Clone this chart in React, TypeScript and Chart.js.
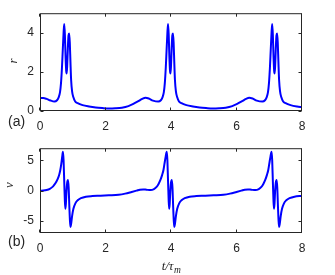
import React, { useEffect, useRef } from "react";
import { Chart, registerables } from "chart.js";

Chart.register(...registerables);

// ---------- data ----------
const xTicks = [0, 2, 4, 6, 8];
const rTicks = [0, 2, 4];
const vTicks = [-5, 0, 5];

const rT = [0, 0.1, 0.2, 0.3, 0.44, 0.52, 0.57, 0.61, 0.64, 0.67, 0.695, 0.72, 0.74, 0.76, 0.78, 0.8, 0.815, 0.83, 0.85, 0.87, 0.89, 0.91, 0.93, 0.95, 0.98, 1.02, 1.07, 1.15, 1.3, 1.5, 1.7, 1.9, 2.1, 2.3, 2.5, 2.7, 2.85, 3.0, 3.12, 3.22, 3.32, 3.45, 3.61, 3.69, 3.74, 3.78, 3.81, 3.84, 3.865, 3.89, 3.91, 3.93, 3.95, 3.97, 3.985, 4.0, 4.02, 4.04, 4.06, 4.08, 4.1, 4.12, 4.15, 4.19, 4.24, 4.32, 4.47, 4.67, 4.87, 5.07, 5.27, 5.47, 5.67, 5.87, 6.02, 6.17, 6.29, 6.39, 6.49, 6.62, 6.79, 6.87, 6.92, 6.96, 6.99, 7.02, 7.045, 7.07, 7.09, 7.11, 7.13, 7.15, 7.165, 7.18, 7.2, 7.22, 7.24, 7.26, 7.28, 7.3, 7.33, 7.37, 7.42, 7.5, 7.65, 7.85, 8.0];
const rY = [0.66, 0.66, 0.62, 0.55, 0.48, 0.55, 0.7, 0.95, 1.4, 2.2, 3.1, 4.0, 4.45, 3.9, 2.8, 2.05, 1.92, 2.3, 3.2, 3.85, 3.96, 3.5, 2.5, 1.6, 1.0, 0.7, 0.5, 0.4, 0.3, 0.23, 0.18, 0.15, 0.13, 0.14, 0.17, 0.25, 0.36, 0.5, 0.62, 0.68, 0.64, 0.53, 0.48, 0.55, 0.7, 0.95, 1.4, 2.2, 3.1, 4.0, 4.45, 3.9, 2.8, 2.05, 1.92, 2.3, 3.2, 3.85, 3.96, 3.5, 2.5, 1.6, 1.0, 0.7, 0.5, 0.4, 0.3, 0.23, 0.18, 0.15, 0.13, 0.14, 0.17, 0.25, 0.36, 0.5, 0.62, 0.68, 0.64, 0.53, 0.48, 0.55, 0.7, 0.95, 1.4, 2.2, 3.1, 4.0, 4.45, 3.9, 2.8, 2.05, 1.92, 2.3, 3.2, 3.85, 3.96, 3.5, 2.5, 1.6, 1.0, 0.7, 0.5, 0.4, 0.3, 0.23, 0.2];

const vT = [0, 0.1, 0.2, 0.3, 0.4, 0.47, 0.53, 0.58, 0.62, 0.65, 0.68, 0.7, 0.72, 0.74, 0.76, 0.775, 0.79, 0.81, 0.83, 0.855, 0.875, 0.895, 0.915, 0.93, 0.95, 0.98, 1.02, 1.08, 1.15, 1.25, 1.4, 1.6, 1.85, 2.1, 2.4, 2.6, 2.8, 2.95, 3.05, 3.15, 3.25, 3.38, 3.48, 3.56, 3.62, 3.68, 3.73, 3.77, 3.8, 3.84, 3.87, 3.89, 3.91, 3.93, 3.945, 3.96, 3.98, 4.0, 4.025, 4.045, 4.065, 4.085, 4.1, 4.12, 4.15, 4.19, 4.25, 4.32, 4.42, 4.57, 4.77, 5.05, 5.3, 5.6, 5.8, 6.0, 6.15, 6.25, 6.35, 6.45, 6.58, 6.68, 6.76, 6.82, 6.88, 6.93, 6.97, 7.0, 7.04, 7.07, 7.09, 7.11, 7.13, 7.145, 7.16, 7.18, 7.2, 7.225, 7.245, 7.265, 7.285, 7.3, 7.32, 7.35, 7.39, 7.45, 7.52, 7.62, 7.77, 8.0];
const vY = [-0.05, 0.0, 0.1, 0.3, 0.7, 1.2, 1.8, 2.5, 3.4, 4.4, 5.7, 6.4, 5.0, 1.5, -1.8, -3.0, -2.2, 0.0, 1.3, 1.75, 0.5, -2.5, -5.0, -6.0, -5.5, -4.2, -3.0, -2.1, -1.6, -1.25, -1.0, -0.9, -0.85, -0.78, -0.68, -0.5, -0.22, 0.0, 0.15, 0.2, 0.14, 0.08, 0.25, 0.6, 1.1, 1.8, 2.6, 3.4, 4.4, 5.7, 6.4, 5.0, 1.5, -1.8, -3.0, -2.2, 0.0, 1.3, 1.75, 0.5, -2.5, -5.0, -6.0, -5.5, -4.2, -3.0, -2.1, -1.6, -1.25, -1.0, -0.9, -0.85, -0.78, -0.68, -0.5, -0.22, 0.0, 0.15, 0.2, 0.14, 0.08, 0.25, 0.6, 1.1, 1.8, 2.6, 3.4, 4.4, 5.7, 6.4, 5.0, 1.5, -1.8, -3.0, -2.2, 0.0, 1.3, 1.75, 0.5, -2.5, -5.0, -6.0, -5.5, -4.2, -3.0, -2.1, -1.6, -1.25, -1.0, -0.88];

// ---------- styles ----------
const AXIS = "#262626";
const SANS = '"Liberation Sans", Arial, Helvetica, sans-serif';
const SERIF = '"Liberation Serif", "DejaVu Serif", serif';
const tickFont = { family: SANS, size: 12 };

const decorPlugin = {
  id: "decor",
  afterDraw(chart: any, _args: any, opts: any) {
    const { ctx, chartArea: a, scales } = chart;
    ctx.save();
    // box
    ctx.strokeStyle = AXIS;
    ctx.lineWidth = 1;
    const L = a.left + 0.5, R = a.right - 0.5, T = a.top + 0.5, B = a.bottom - 0.5;
    ctx.strokeRect(L, T, R - L, B - T);
    // inward ticks on all four sides
    const tl = 3;
    ctx.beginPath();
    scales.x.ticks.forEach((tk: any) => {
      const px = Math.round(scales.x.getPixelForValue(tk.value)) - 0.5;
      ctx.moveTo(px, B); ctx.lineTo(px, B - tl);
      ctx.moveTo(px, T); ctx.lineTo(px, T + tl);
    });
    scales.y.ticks.forEach((tk: any) => {
      const py = Math.round(scales.y.getPixelForValue(tk.value)) + 0.5;
      ctx.moveTo(L, py); ctx.lineTo(L + tl, py);
      ctx.moveTo(R, py); ctx.lineTo(R - tl, py);
    });
    ctx.stroke();

    // panel label
    ctx.fillStyle = AXIS;
    ctx.font = `14px ${SANS}`;
    ctx.textAlign = "left";
    ctx.textBaseline = "middle";
    ctx.fillText(opts.panel, opts.panelX, opts.panelY);

    // y label (rotated)
    ctx.save();
    ctx.translate(opts.ylabX, opts.ylabY);
    ctx.rotate(-Math.PI / 2);
    ctx.font = `italic 13px ${SERIF}`;
    ctx.textAlign = "center";
    ctx.textBaseline = "middle";
    ctx.fillText(opts.ylab, 0, 0);
    ctx.restore();

    // x label with subscript
    if (opts.xlab) {
      const main = "t/\u03C4";
      const sub = "m";
      ctx.font = `italic 13px ${SERIF}`;
      const w1 = ctx.measureText(main).width;
      ctx.font = `italic 9.5px ${SERIF}`;
      const w2 = ctx.measureText(sub).width;
      const cx = (a.left + a.right) / 2;
      const x0 = cx - (w1 + w2) / 2;
      ctx.textAlign = "left";
      ctx.textBaseline = "alphabetic";
      ctx.font = `italic 13px ${SERIF}`;
      ctx.fillText(main, x0, opts.xlabY);
      ctx.font = `italic 9.5px ${SERIF}`;
      ctx.fillText(sub, x0 + w1 + 0.5, opts.xlabY + 3);
    }
    ctx.restore();
  },
};

function buildConfig(
  t: number[],
  y: number[],
  yMin: number,
  yMax: number,
  yTicks: number[],
  padTop: number,
  xAxisH: number,
  labelPad: number,
  decor: any
): any {
  return {
    type: "line",
    data: {
      datasets: [
        {
          data: t.map((tv, i) => ({ x: tv, y: y[i] })),
          borderColor: "#0000ff",
          borderWidth: 2,
          pointRadius: 0,
          fill: false,
          cubicInterpolationMode: "monotone",
        },
      ],
    },
    options: {
      animation: false,
      responsive: false,
      devicePixelRatio: 1,
      layout: { padding: { left: 0, right: 33, top: padTop, bottom: 0 } },
      plugins: {
        legend: { display: false },
        tooltip: { enabled: false },
        decor,
      },
      scales: {
        x: {
          type: "linear",
          min: 0,
          max: 8,
          afterBuildTicks: (s: any) => {
            s.ticks = xTicks.map((v) => ({ value: v }));
          },
          afterFit: (s: any) => {
            s.height = xAxisH;
          },
          grid: { display: false, drawTicks: false },
          border: { display: false },
          ticks: {
            font: tickFont,
            color: AXIS,
            padding: labelPad,
            maxRotation: 0,
            autoSkip: false,
            callback: (v: any) => String(v),
          },
        },
        y: {
          type: "linear",
          min: yMin,
          max: yMax,
          afterBuildTicks: (s: any) => {
            s.ticks = yTicks.map((v) => ({ value: v }));
          },
          afterFit: (s: any) => {
            s.width = 40;
          },
          grid: { display: false, drawTicks: false },
          border: { display: false },
          ticks: {
            font: tickFont,
            color: AXIS,
            padding: 6,
            autoSkip: false,
            callback: (v: any) => String(v),
          },
        },
      },
    },
    plugins: [decorPlugin],
  };
}

function Panel({ top, height, config }: { top: number; height: number; config: () => any }) {
  const ref = useRef<HTMLCanvasElement>(null);
  useEffect(() => {
    const chart = new Chart(ref.current as HTMLCanvasElement, config());
    return () => chart.destroy();
  }, []);
  return (
    <canvas
      ref={ref}
      width={335}
      height={height}
      style={{ position: "absolute", left: 0, top, width: 335, height, display: "block" }}
    />
  );
}

export default function App() {
  return (
    <div style={{ position: "fixed", left: 0, top: 0, width: 335, height: 275, background: "#fff" }}>
      <Panel
        top={0}
        height={135}
        config={() =>
          buildConfig(rT, rY, 0, 5, rTicks, 13, 24, 8.5, {
            panel: "(a)",
            panelX: 8,
            panelY: 122.5,
            ylab: "r",
            ylabX: 14,
            ylabY: 61,
            xlab: false,
          })
        }
      />
      <Panel
        top={135}
        height={140}
        config={() =>
          buildConfig(vT, vY, -7, 7, vTicks, 2, 42, 8.5, {
            panel: "(b)",
            panelX: 8,
            panelY: 107.5,
            ylab: "v",
            ylabX: 10,
            ylabY: 50,
            xlab: true,
            xlabY: 134.5,
          })
        }
      />
    </div>
  );
}
